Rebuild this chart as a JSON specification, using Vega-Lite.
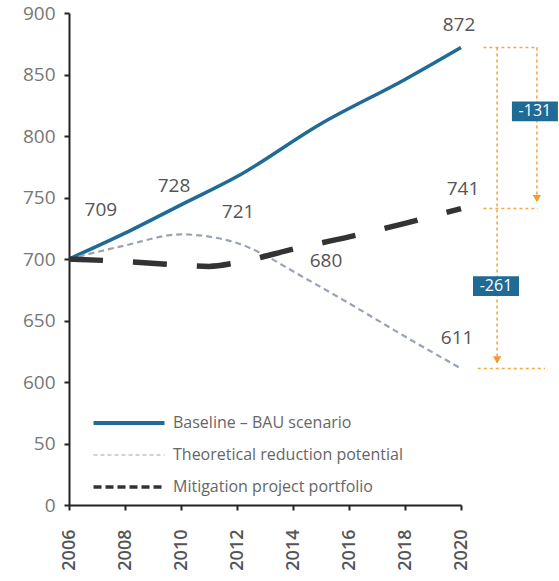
{
  "$schema": "https://vega.github.io/schema/vega-lite/v6.json",
  "width": 392,
  "height": 492,
  "autosize": {"type": "none"},
  "padding": {"left": 69, "right": 98, "top": 13, "bottom": 76},
  "background": "white",
  "config": {"view": {"stroke": null}, "font": "Open Sans"},
  "datasets": {
    "lines": [
      {"series": "Baseline – BAU scenario", "year": 2006, "value": 700},
      {"series": "Baseline – BAU scenario", "year": 2008, "value": 721},
      {"series": "Baseline – BAU scenario", "year": 2010, "value": 744},
      {"series": "Baseline – BAU scenario", "year": 2012, "value": 767},
      {"series": "Baseline – BAU scenario", "year": 2015, "value": 810},
      {"series": "Baseline – BAU scenario", "year": 2018, "value": 846},
      {"series": "Baseline – BAU scenario", "year": 2020, "value": 872},
      {"series": "Theoretical reduction potential", "year": 2006, "value": 700},
      {"series": "Theoretical reduction potential", "year": 2008, "value": 711},
      {"series": "Theoretical reduction potential", "year": 2010, "value": 720},
      {"series": "Theoretical reduction potential", "year": 2012, "value": 713},
      {"series": "Theoretical reduction potential", "year": 2013, "value": 703},
      {"series": "Theoretical reduction potential", "year": 2014, "value": 690},
      {"series": "Theoretical reduction potential", "year": 2016, "value": 664},
      {"series": "Theoretical reduction potential", "year": 2018, "value": 637},
      {"series": "Theoretical reduction potential", "year": 2020, "value": 611},
      {"series": "Mitigation project portfolio", "year": 2006, "value": 700},
      {"series": "Mitigation project portfolio", "year": 2008, "value": 698},
      {"series": "Mitigation project portfolio", "year": 2010, "value": 695},
      {"series": "Mitigation project portfolio", "year": 2011, "value": 694},
      {"series": "Mitigation project portfolio", "year": 2012, "value": 697},
      {"series": "Mitigation project portfolio", "year": 2014, "value": 708},
      {"series": "Mitigation project portfolio", "year": 2016, "value": 718},
      {"series": "Mitigation project portfolio", "year": 2018, "value": 729},
      {"series": "Mitigation project portfolio", "year": 2020, "value": 741}
    ],
    "rules": [
      {"x1": 2020.8, "x2": 2022.75, "y1": 872, "y2": 872},
      {"x1": 2020.8, "x2": 2022.75, "y1": 741, "y2": 741},
      {"x1": 2020.6, "x2": 2023.0, "y1": 611, "y2": 611},
      {"x1": 2022.71, "x2": 2022.71, "y1": 872, "y2": 745},
      {"x1": 2021.29, "x2": 2021.29, "y1": 872, "y2": 615}
    ],
    "arrows": [
      {"x": 2022.71, "y": 749},
      {"x": 2021.29, "y": 618}
    ],
    "labels": [
      {"x": 2007.14, "y": 740, "t": "709"},
      {"x": 2009.75, "y": 759, "t": "728"},
      {"x": 2012.04, "y": 738, "t": "721"},
      {"x": 2015.18, "y": 698, "t": "680"},
      {"x": 2019.86, "y": 636, "t": "611"},
      {"x": 2020.07, "y": 757, "t": "741"},
      {"x": 2019.93, "y": 890, "t": "872"}
    ],
    "boxes": [
      {"x": 2022.64, "y": 820, "t": "-131"},
      {"x": 2021.25, "y": 678, "t": "-261"}
    ]
  },
  "encoding": {
    "x": {
      "field": "year", "type": "quantitative",
      "scale": {"domain": [2006, 2020], "nice": false, "zero": false},
      "axis": {
        "title": null, "values": [2006, 2008, 2010, 2012, 2014, 2016, 2018, 2020], "format": "d",
        "labelAngle": -90, "labelFontSize": 18, "labelColor": "#555", "labelFontWeight": 600,
        "labelPadding": 19, "domainColor": "#222", "domainWidth": 2, "tickColor": "#222", "tickWidth": 2, "tickSize": 5,
        "grid": false, "labelFlush": false
      }
    },
    "y": {
      "field": "value", "type": "quantitative",
      "scale": {"domain": [500, 900], "nice": false, "zero": false},
      "axis": {
        "title": null, "values": [500, 550, 600, 650, 700, 750, 800, 850, 900],
        "labelExpr": "datum.value == 550 ? '50' : datum.value == 500 ? '0' : datum.label",
        "labelFontSize": 19, "labelColor": "#777", "labelPadding": 9,
        "domainColor": "#222", "domainWidth": 2, "tickColor": "#222", "tickWidth": 2, "tickSize": 5,
        "grid": false, "labelFlush": false
      }
    }
  },
  "layer": [
    {
      "data": {"name": "lines"},
      "transform": [{"filter": "datum.series == 'Baseline – BAU scenario'"}],
      "mark": {"type": "line", "interpolate": "monotone", "strokeWidth": 3.5},
      "encoding": {
        "color": {
          "field": "series", "type": "nominal",
          "scale": {
            "domain": ["Baseline – BAU scenario", "Theoretical reduction potential", "Mitigation project portfolio"],
            "range": ["#1f6b96", "#9aa2b8", "#333333"]
          },
          "legend": {
            "title": null, "orient": "none", "legendX": 52, "legendY": 402, "padding": 0,
            "symbolType": "M-4,0H4", "symbolSize": 315, "labelOffset": 36, "rowPadding": 16,
            "labelFontSize": 16, "labelColor": "#666", "labelLimit": 400,
            "symbolDash": {"expr": "datum.value == 'Mitigation project portfolio' ? [8, 4] : datum.value == 'Theoretical reduction potential' ? [4, 3] : [1, 0]"},
            "symbolStrokeWidth": {"expr": "datum.value == 'Mitigation project portfolio' ? 3.5 : datum.value == 'Theoretical reduction potential' ? 1 : 4"}
          }
        }
      }
    },
    {
      "data": {"name": "lines"},
      "transform": [{"filter": "datum.series == 'Theoretical reduction potential'"}],
      "mark": {"type": "line", "interpolate": "monotone", "strokeWidth": 2.2, "strokeDash": [6, 4]},
      "encoding": {
        "color": {"field": "series", "type": "nominal"}
      }
    },
    {
      "data": {"name": "lines"},
      "transform": [{"filter": "datum.series == 'Mitigation project portfolio'"}],
      "mark": {"type": "line", "interpolate": "monotone", "strokeWidth": 5.5, "strokeDash": [34, 30]},
      "encoding": {
        "color": {"field": "series", "type": "nominal"}
      }
    },
    {
      "data": {"name": "rules"},
      "mark": {"type": "rule", "color": "#f6a94a", "strokeWidth": 1.6, "strokeDash": [3, 3]},
      "encoding": {
        "x": {"field": "x1", "type": "quantitative"},
        "x2": {"field": "x2"},
        "y": {"field": "y1", "type": "quantitative"},
        "y2": {"field": "y2"}
      }
    },
    {
      "data": {"name": "arrows"},
      "mark": {"type": "point", "shape": "triangle-down", "filled": true, "color": "#f39a2e", "size": 70, "opacity": 1},
      "encoding": {
        "x": {"field": "x", "type": "quantitative"},
        "y": {"field": "y", "type": "quantitative"}
      }
    },
    {
      "data": {"name": "labels"},
      "mark": {"type": "text", "fontSize": 19, "color": "#555", "align": "center", "baseline": "middle"},
      "encoding": {
        "x": {"field": "x", "type": "quantitative"},
        "y": {"field": "y", "type": "quantitative"},
        "text": {"field": "t"}
      }
    },
    {
      "data": {"name": "boxes"},
      "mark": {"type": "point", "shape": "M-1,-0.43H1V0.43H-1Z", "filled": true, "color": "#1f6b96", "size": 2116, "opacity": 1},
      "encoding": {
        "x": {"field": "x", "type": "quantitative"},
        "y": {"field": "y", "type": "quantitative"}
      }
    },
    {
      "data": {"name": "boxes"},
      "mark": {"type": "text", "fontSize": 16, "color": "white", "align": "center", "baseline": "middle"},
      "encoding": {
        "x": {"field": "x", "type": "quantitative"},
        "y": {"field": "y", "type": "quantitative"},
        "text": {"field": "t"}
      }
    }
  ]
}
